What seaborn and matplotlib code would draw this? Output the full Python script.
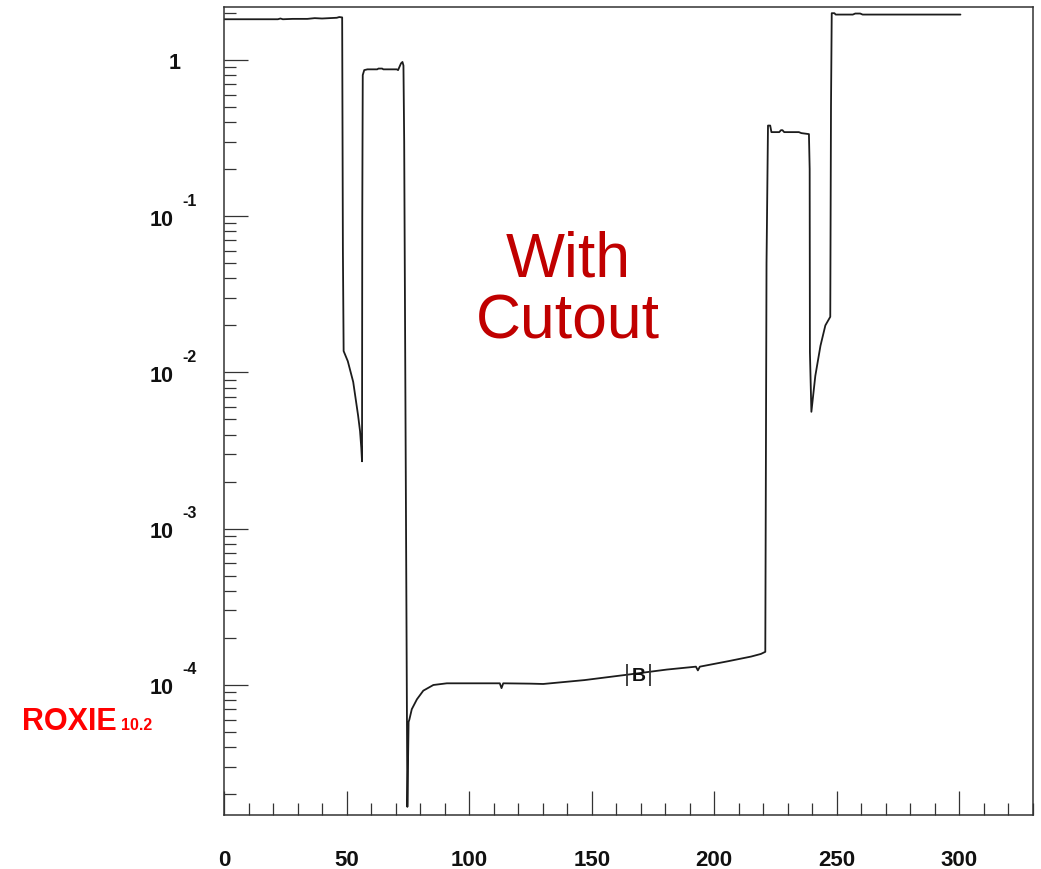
import numpy as np
import pandas as pd
import matplotlib
matplotlib.use("Agg")
import matplotlib.pyplot as plt
import matplotlib.transforms as mtransforms
from matplotlib.ticker import LogLocator, MultipleLocator, NullFormatter, FixedLocator, FixedFormatter
import seaborn as sns

# ---- profile along the coil: position (x) and relative value (y), section by section ----
first_plateau_x = [0.0, 8.0, 16.0, 22.0, 23.0, 24.0, 28.0, 34.0, 37.0, 40.0, 46.0, 47.0, 48.2]
first_plateau_y = [1.82, 1.82, 1.82, 1.82, 1.84, 1.82, 1.83, 1.83, 1.85, 1.84, 1.86, 1.88, 1.87]

first_dip_x = [48.5, 48.8, 50.5, 52.7, 54.7, 55.5, 56.0, 56.3]
first_dip_y = [0.06, 0.0137, 0.0118, 0.0087, 0.0053, 0.0042, 0.0033, 0.0027]

second_plateau_x = [56.4, 56.6, 57.2, 58.5, 62.5, 63.0, 64.5, 65.0, 70.5, 71.0, 72.2, 72.8, 73.2]
second_plateau_y = [0.10, 0.80, 0.86, 0.87, 0.87, 0.88, 0.88, 0.87, 0.87, 0.86, 0.95, 0.97, 0.92]

deep_minimum_x = [73.5, 74.8, 75.3]
deep_minimum_y = [0.30, 1.66e-5, 5.8e-5]

baseline_x = [75.6, 76.6, 78.7, 81.3, 85.4, 90.9, 100.0, 112.5, 113.2, 113.9, 125.0, 130.2,
              147.1, 163.8, 180.6, 192.5, 193.3, 194.1, 205.7, 215.0, 219.0, 220.8]
baseline_y = [6.0e-5, 7.0e-5, 8.1e-5, 9.2e-5, 1.0e-4, 1.025e-4, 1.025e-4, 1.025e-4, 0.955e-4,
              1.025e-4, 1.02e-4, 1.015e-4, 1.075e-4, 1.16e-4, 1.255e-4, 1.31e-4, 1.24e-4,
              1.31e-4, 1.42e-4, 1.52e-4, 1.58e-4, 1.63e-4]

third_plateau_x = [221.3, 221.9, 222.8, 223.3, 226.5, 227.2, 227.8, 228.5, 234.5, 235.5, 238.6, 238.9]
third_plateau_y = [0.05, 0.38, 0.38, 0.345, 0.345, 0.355, 0.355, 0.345, 0.345, 0.34, 0.335, 0.20]

second_dip_x = [239.0, 239.6, 241.2, 243.3, 245.3, 247.3]
second_dip_y = [0.0135, 0.0056, 0.0095, 0.0148, 0.020, 0.0227]

last_plateau_x = [247.6, 247.9, 249.0, 249.5, 256.5, 257.5, 259.5, 260.5, 300.4]
last_plateau_y = [0.50, 1.99, 1.99, 1.95, 1.95, 1.98, 1.98, 1.95, 1.95]

# marker "B" on the baseline
marker_x = 169.0
marker_y = 1.16e-4
marker_halfwidth = 4.75

# axis ticks and labels
xtick_values = [0, 50, 100, 150, 200, 250, 300]
xtick_labels = ["0", "50", "100", "150", "200", "250", "300"]
ytick_values = [1.0, 1e-1, 1e-2, 1e-3, 1e-4]
ytick_bases = ["1", "10", "10", "10", "10"]
ytick_exponents = ["", "-1", "-2", "-3", "-4"]

x_limits = (0, 330)
y_limits = (1.479e-5, 2.18)

sections = [
    (first_plateau_x, first_plateau_y),
    (first_dip_x, first_dip_y),
    (second_plateau_x, second_plateau_y),
    (deep_minimum_x, deep_minimum_y),
    (baseline_x, baseline_y),
    (third_plateau_x, third_plateau_y),
    (second_dip_x, second_dip_y),
    (last_plateau_x, last_plateau_y),
]
profile = pd.DataFrame({
    "position": np.concatenate([s[0] for s in sections]),
    "value": np.concatenate([s[1] for s in sections]),
})

sns.set_theme(style="white")
plt.rcParams["font.family"] = ["Liberation Sans", "DejaVu Sans"]

W, H = 1041, 870
fig = plt.figure(figsize=(W / 100, H / 100), dpi=100)
ax = fig.add_axes([224 / W, 1 - 815.7 / H, 809 / W, 807.7 / H])

line_color = "#1c1c1c"
frame_color = "#333333"

sns.lineplot(data=profile, x="position", y="value", sort=False, estimator=None,
             color=line_color, linewidth=1.3, ax=ax)

ax.set_yscale("log")
ax.set_xlim(*x_limits)
ax.set_ylim(*y_limits)
ax.set_xlabel("")
ax.set_ylabel("")

for side in ["left", "bottom", "top", "right"]:
    ax.spines[side].set_visible(True)
    ax.spines[side].set_color(frame_color)
    ax.spines[side].set_linewidth(1.1)

# x axis: major every 50, minor every 10, ticks pointing inside
ax.xaxis.set_major_locator(FixedLocator(xtick_values))
ax.xaxis.set_major_formatter(FixedFormatter(xtick_labels))
ax.xaxis.set_minor_locator(MultipleLocator(10))
# y axis: decades with 2..9 sub-ticks, labels drawn separately
ax.yaxis.set_major_locator(LogLocator(base=10, numticks=30))
ax.yaxis.set_minor_locator(LogLocator(base=10, subs=np.arange(2, 10), numticks=30))
ax.yaxis.set_major_formatter(NullFormatter())
ax.yaxis.set_minor_formatter(NullFormatter())

ax.tick_params(axis="both", which="major", direction="in", length=17.3, width=0.9,
               color=frame_color, top=False, right=False, bottom=True, left=True)
ax.tick_params(axis="both", which="minor", direction="in", length=8.6, width=0.9,
               color=frame_color, top=False, right=False, bottom=True, left=True)
ax.tick_params(axis="x", which="major", pad=25.0, labelsize=16, labelcolor="#111111")
for lbl in ax.get_xticklabels():
    lbl.set_fontweight("bold")

# y labels in "10 ^exp" form
ylabel_trans = mtransforms.blended_transform_factory(ax.transAxes, ax.transData)
for val, base, expo in zip(ytick_values, ytick_bases, ytick_exponents):
    if expo:
        ax.annotate(base, xy=(0, val), xycoords=ylabel_trans, xytext=(-45.0, -6.1),
                    textcoords="offset points", ha="center", va="baseline",
                    fontsize=15.5, fontweight="bold", color="#111111", annotation_clip=False)
        ax.annotate(expo, xy=(0, val), xycoords=ylabel_trans, xytext=(-30.2, 8.3),
                    textcoords="offset points", ha="left", va="baseline",
                    fontsize=11.5, fontweight="bold", color="#111111", annotation_clip=False)
    else:
        ax.annotate(base, xy=(0, val), xycoords=ylabel_trans, xytext=(-35.6, -6.1),
                    textcoords="offset points", ha="center", va="baseline",
                    fontsize=15.5, fontweight="bold", color="#111111", annotation_clip=False)

# "B" marker with its bracket bars
ax.errorbar([marker_x], [marker_y], xerr=[marker_halfwidth], fmt="none", ecolor=frame_color,
            elinewidth=0, capsize=7.9, capthick=1.3)
ax.annotate("B", xy=(marker_x, marker_y), xytext=(0, -3.6), textcoords="offset points",
            ha="center", va="baseline", fontsize=14, fontweight="bold", color="#111111")

# title text inside the plot
fig.text(568 / W, 1 - 291 / H, "With\nCutout", ha="center", va="center",
         fontsize=45, color="#C00000", linespacing=1.07, multialignment="center")

# program tag on the lower left
fig.text(22 / W, 1 - 730 / H, "ROXIE", ha="left", va="baseline",
         fontsize=22, fontweight="bold", color="#FF0000")
fig.text(121 / W, 1 - 730 / H, "10.2", ha="left", va="baseline",
         fontsize=11.5, fontweight="bold", color="#FF0000")

fig.savefig("out.png", dpi=100, facecolor="white")
